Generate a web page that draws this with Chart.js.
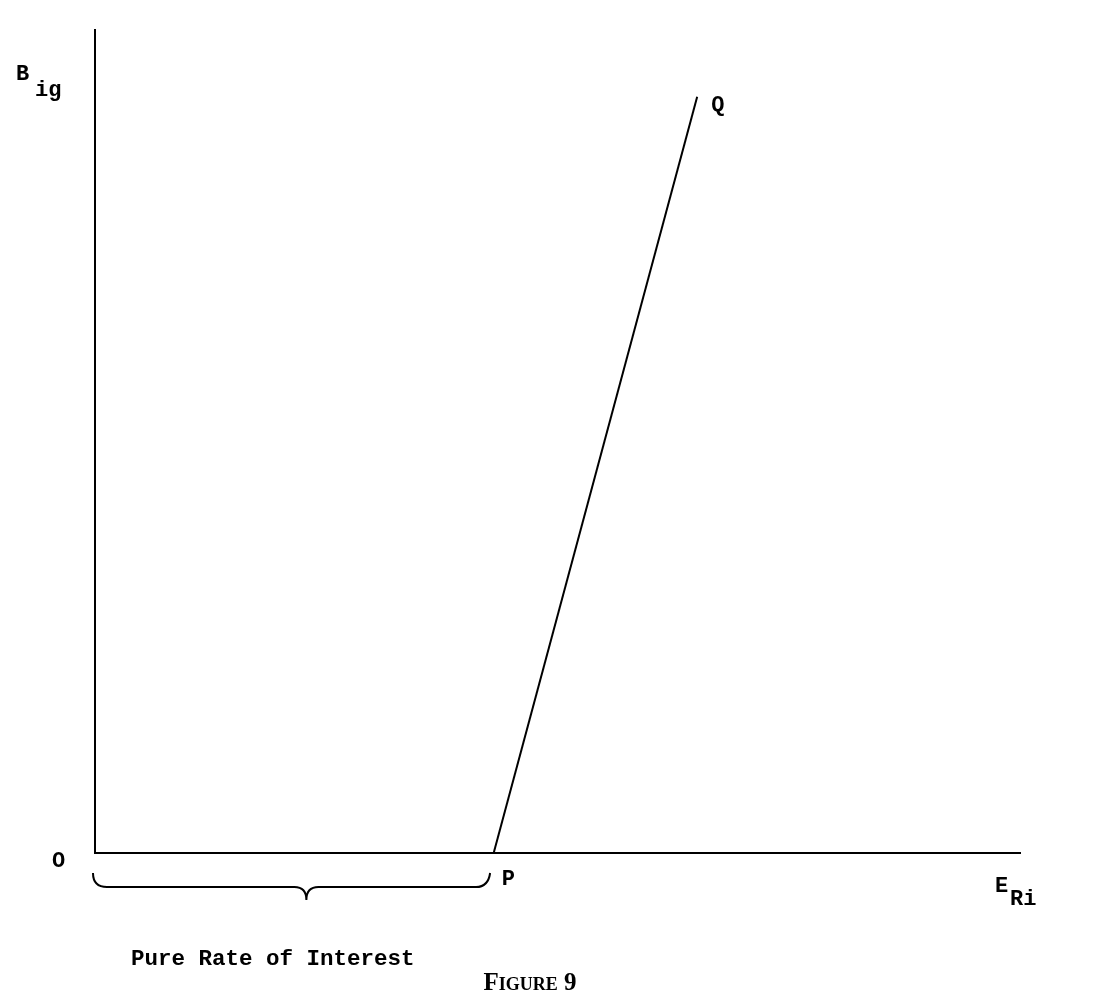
<!DOCTYPE html>
<html>
<head>
<meta charset="utf-8">
<script src="https://cdn.jsdelivr.net/npm/chart.js@4.4.0/dist/chart.umd.min.js"></script>
<style>
  html, body { margin: 0; padding: 0; background: #fff; }
  #wrap { width: 1102px; height: 1008px; }
</style>
</head>
<body>
<div id="wrap"><canvas id="chart" width="1102" height="1008"></canvas></div>
<script>
// line PQ (x = E_Ri, y = B_ig), axis ranges 0..100
var lineX = [43.1, 65.1];
var lineY = [0, 91.9];
var pointNames = ["P", "Q"];
var braceFrom = 0, braceTo = 42.5;

var mono = '"Liberation Mono", "DejaVu Sans Mono", monospace';

// labels, brace and caption
var labelsPlugin = {
  id: 'labels',
  afterDraw: function(chart){
    var c = chart.ctx, xs = chart.scales.x, ys = chart.scales.y;
    c.save();
    c.fillStyle = '#000';
    c.strokeStyle = '#000';
    c.textBaseline = 'alphabetic';

    // axis titles
    c.font = 'bold 22px ' + mono;
    c.fillText('B', 16, 80);
    c.fillText('ig', 35, 96);
    c.fillText('E', 995, 892);
    c.fillText('Ri', 1010, 905);

    // origin
    c.fillText('O', 52, 867);

    // P and Q
    var px = xs.getPixelForValue(lineX[0]), py = ys.getPixelForValue(lineY[0]);
    var qx = xs.getPixelForValue(lineX[1]), qy = ys.getPixelForValue(lineY[1]);
    c.fillText(pointNames[0], px + 8, py + 32);
    c.fillText(pointNames[1], qx + 14, qy + 14);

    // curly brace under the axis
    var x0 = xs.getPixelForValue(braceFrom) - 2, x1 = xs.getPixelForValue(braceTo);
    var mid = x0 + (x1 - x0) * 0.54;
    var top = 873, bar = 887, tip = 900;
    c.lineWidth = 2;
    c.beginPath();
    c.moveTo(x0, top);
    c.quadraticCurveTo(x0, bar, x0 + 14, bar);
    c.lineTo(mid - 12, bar);
    c.quadraticCurveTo(mid, bar, mid, tip);
    c.quadraticCurveTo(mid, bar, mid + 12, bar);
    c.lineTo(x1 - 12, bar);
    c.quadraticCurveTo(x1, bar, x1 + 2, top);
    c.stroke();

    c.font = 'bold 22.5px ' + mono;
    c.fillText('Pure Rate of Interest', 131, 965);

    // caption
    c.font = 'small-caps bold 25px "Liberation Serif", serif';
    c.textAlign = 'center';
    c.fillText('Figure 9', 530, 990);
    c.restore();
  }
};

var ctx = document.getElementById('chart').getContext('2d');
var chart = new Chart(ctx, {
  type: 'scatter',
  data: {
    datasets: [{
      data: lineX.map(function(x, i){ return { x: x, y: lineY[i] }; }),
      showLine: true,
      borderColor: '#000',
      borderWidth: 2,
      pointRadius: 0,
      clip: false
    }]
  },
  options: {
    responsive: false,
    animation: false,
    layout: { padding: { left: 87, right: 82, top: 30, bottom: 147 } },
    plugins: { legend: { display: false }, tooltip: { enabled: false } },
    scales: {
      x: {
        type: 'linear', min: 0, max: 100,
        ticks: { display: false },
        grid: { display: false },
        border: { display: true, color: '#000', width: 2 }
      },
      y: {
        type: 'linear', min: 0, max: 100,
        ticks: { display: false },
        grid: { display: false },
        border: { display: true, color: '#000', width: 2 }
      }
    }
  },
  plugins: [labelsPlugin]
});
</script>
</body>
</html>
